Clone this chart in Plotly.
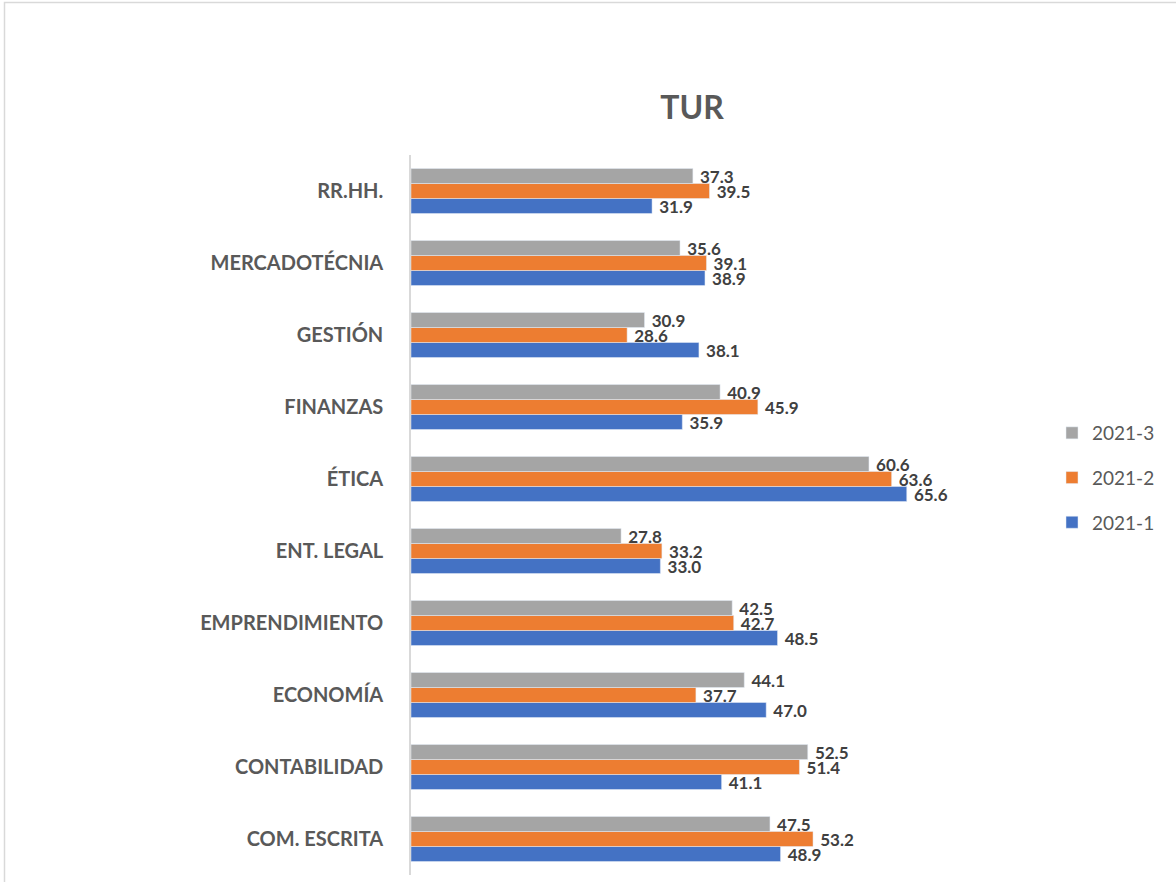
import plotly.graph_objects as go

# categories listed bottom to top, as the chart draws them
categories = [
    "COM. ESCRITA",
    "CONTABILIDAD",
    "ECONOMÍA",
    "EMPRENDIMIENTO",
    "ENT. LEGAL",
    "ÉTICA",
    "FINANZAS",
    "GESTIÓN",
    "MERCADOTÉCNIA",
    "RR.HH.",
]

vals_2021_1 = [48.9, 41.1, 47.0, 48.5, 33.0, 65.6, 35.9, 38.1, 38.9, 31.9]
vals_2021_2 = [53.2, 51.4, 37.7, 42.7, 33.2, 63.6, 45.9, 28.6, 39.1, 39.5]
vals_2021_3 = [47.5, 52.5, 44.1, 42.5, 27.8, 60.6, 40.9, 30.9, 35.6, 37.3]

# name, values, colour, legend rank (legend lists 2021-3 first)
series = [
    ("2021-1", vals_2021_1, "#4472C4", 3),
    ("2021-2", vals_2021_2, "#ED7D31", 2),
    ("2021-3", vals_2021_3, "#A5A5A5", 1),
]

FONT = "Lato, 'Liberation Sans', sans-serif"

fig = go.Figure()

for name, vals, color, rank in series:
    fig.add_trace(
        go.Bar(
            y=categories,
            x=vals,
            name=name,
            orientation="h",
            marker_color=color,
            legendgroup=name,
            legendrank=rank,
            # non-breaking spaces push the label a little off the bar end
            text=["\u00a0" + f"{v:.1f}" for v in vals],
            textposition="outside",
            constraintext="none",
            textfont=dict(family=FONT, size=17, color="#404040", weight="bold"),
            cliponaxis=False,
        )
    )

fig.update_layout(
    width=1176,
    height=882,
    margin=dict(l=411, r=236, t=155, b=7),
    paper_bgcolor="white",
    plot_bgcolor="white",
    barmode="group",
    bargap=0.375,
    bargroupgap=0,
    title=dict(
        text="<b>TUR</b>",
        font=dict(family=FONT, size=32, color="#595959"),
        x=692 / 1176,
        xanchor="center",
        xref="container",
        y=1 - 108 / 882,
        yanchor="middle",
        yref="container",
    ),
    legend=dict(
        traceorder="grouped",
        font=dict(family=FONT, size=19, color="#595959"),
        xref="container",
        yref="container",
        x=1052 / 1176,
        xanchor="left",
        y=1 - 414 / 882,
        yanchor="top",
        tracegroupgap=17,
        bgcolor="rgba(0,0,0,0)",
    ),
    showlegend=True,
    # light frame around the whole chart
    shapes=[
        dict(
            type="rect",
            xref="paper",
            yref="paper",
            x0=(4.5 - 411) / 529,
            x1=(1190 - 411) / 529,
            y0=(875 - 900) / 720,
            y1=(875 - 2.5) / 720,
            line=dict(color="#d9d9d9", width=1.5),
            layer="below",
        )
    ],
)

fig.update_xaxes(visible=False, range=[0, 70])
fig.update_yaxes(
    type="category",
    showline=True,
    linecolor="#d9d9d9",
    linewidth=1.5,
    showgrid=False,
    ticks="",
    ticklabelstandoff=22,
    tickfont=dict(family=FONT, size=20, color="#595959", weight="bold"),
)

# the page body has a default margin; drop it so the figure sits at the corner
fig.write_html(
    "out.html",
    config={"displayModeBar": False},
    post_script="document.body.style.margin='0';",
)
